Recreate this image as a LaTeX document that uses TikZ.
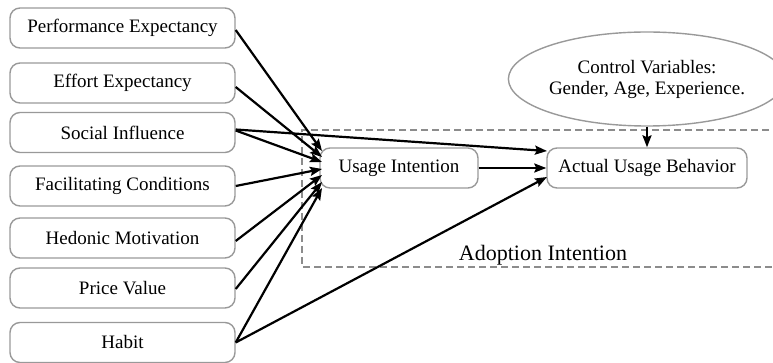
\documentclass[tikz,border=0pt]{standalone}
\usepackage{fontspec}
\setmainfont{Liberation Serif}
\usetikzlibrary{arrows.meta,shapes.geometric}
\begin{document}
\begin{tikzpicture}[x=1pt,y=-1pt,
  factor/.style={draw=black!40,line width=1.4pt,rounded corners=10pt,
    minimum width=225pt,minimum height=40pt,inner sep=0pt,
    font=\fontsize{19}{22}\selectfont},
  outcome/.style={factor},
  link/.style={line width=2.2pt,-{Stealth[length=12pt,width=9pt,inset=2pt]}}]
\useasboundingbox (0,0) rectangle (773,363);

% dashed frame around the adoption stage (runs off the right edge)
\draw[black!45,line width=1.4pt,dash pattern=on 7pt off 4pt]
  (780,130) -- (302,130) -- (302,267) -- (780,267);
\node[font=\fontsize{22}{26}\selectfont] (adopt) at (543,255) {Adoption Intention};

% determinants
\node[factor] (pe) at (122.5,28) {Performance Expectancy};
\node[factor] (ee) at (122.5,83) {Effort Expectancy};
\node[factor] (si) at (122.5,132.5) {Social Influence};
\node[factor] (fc) at (122.5,186) {Facilitating Conditions};
\node[factor] (hm) at (122.5,238) {Hedonic Motivation};
\node[factor] (pv) at (122.5,288) {Price Value};
\node[factor] (hb) at (122.5,342.5) {Habit};

% outcomes
\node[outcome,minimum width=158pt] (ui) at (399,168) {Usage Intention};
\node[outcome,minimum width=200pt] (aub) at (647,168) {Actual Usage Behavior};

% moderators
\node[ellipse,draw=black!40,line width=1.4pt,minimum width=250pt,minimum height=94pt,
  inner sep=0pt,align=center,font=\fontsize{19}{21}\selectfont] (ctrl) at (647,79)
  {Control Variables:\\Gender, Age, Experience.};

% paths into usage intention
\draw[link] ([yshift=-2pt]pe.east) -- (322,151);
\draw[link] ([yshift=-4pt]ee.east) -- (322,157);
\draw[link] ([yshift=2pt]si.east) -- (322,162);
\draw[link] (fc.east) -- (322,169);
\draw[link] ([yshift=-3pt]hm.east) -- (322,175);
\draw[link] ([yshift=-1pt]pv.east) -- (322,182);
\draw[link] (hb.east) -- (322,188);

% paths into actual usage behaviour
\draw[link] ([yshift=3pt]si.east) -- (547,151);
\draw[link] (ui.east) -- (aub.west);
\draw[link] (hb.east) -- (547,177);
\draw[link] (ctrl.south) -- (aub.north);
\end{tikzpicture}
\end{document}
